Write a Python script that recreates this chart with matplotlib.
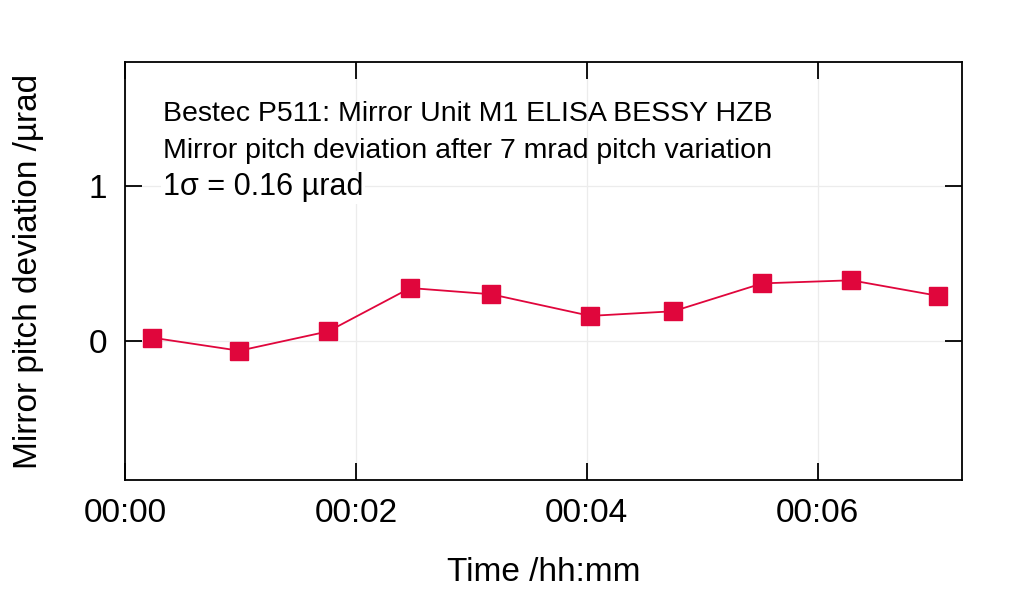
import matplotlib
matplotlib.use("Agg")
import matplotlib.pyplot as plt
from matplotlib.ticker import FuncFormatter

# time in minutes since start, pitch deviation in µrad
time_min = [0.23, 0.99, 1.76, 2.47, 3.17, 4.03, 4.75, 5.52, 6.29, 7.04]
pitch_dev = [0.02, -0.065, 0.06, 0.34, 0.30, 0.16, 0.19, 0.37, 0.39, 0.29]

title_lines = ["Bestec P511: Mirror Unit M1 ELISA BESSY HZB",
               "Mirror pitch deviation after 7 mrad pitch variation"]
sigma_text = "1σ = 0.16 µrad"

RED = "#E0063C"

plt.rcParams["font.family"] = ["Liberation Sans", "DejaVu Sans"]

fig = plt.figure(figsize=(10.24, 5.94), dpi=100)
ax = fig.add_axes([125 / 1024, 1 - 480 / 594, (962 - 125) / 1024, (480 - 62) / 594])

ax.plot(time_min, pitch_dev, color=RED, lw=1.3, marker="s", ms=13,
        markerfacecolor=RED, markeredgecolor=RED, zorder=3)

ax.set_xlim(0, 7.25)
ax.set_ylim(-0.9, 1.8)
ax.set_xticks([0, 2, 4, 6])
ax.xaxis.set_major_formatter(FuncFormatter(lambda v, p: f"00:{int(round(v)):02d}"))
ax.set_yticks([0, 1])
ax.grid(color="#ececec", lw=0.9)
ax.set_axisbelow(True)

ax.tick_params(direction="in", length=12, width=1.3, labelsize=24,
               top=True, right=True, pad=13, colors="black")
for s in ax.spines.values():
    s.set_linewidth(1.3)

ax.set_xlabel("Time /hh:mm", fontsize=24, labelpad=20)
ax.set_ylabel("Mirror pitch deviation /µrad", fontsize=24, labelpad=32)

ax.text(0.045, 0.875, title_lines[0], transform=ax.transAxes,
        fontsize=20.5, va="center", ha="left")
ax.text(0.045, 0.787, title_lines[1], transform=ax.transAxes,
        fontsize=20.5, va="center", ha="left")
ax.text(0.045, 0.70, sigma_text, transform=ax.transAxes,
        fontsize=22, va="center", ha="left",
        bbox=dict(facecolor="white", edgecolor="none", pad=1))

fig.savefig("out.png", dpi=100)
